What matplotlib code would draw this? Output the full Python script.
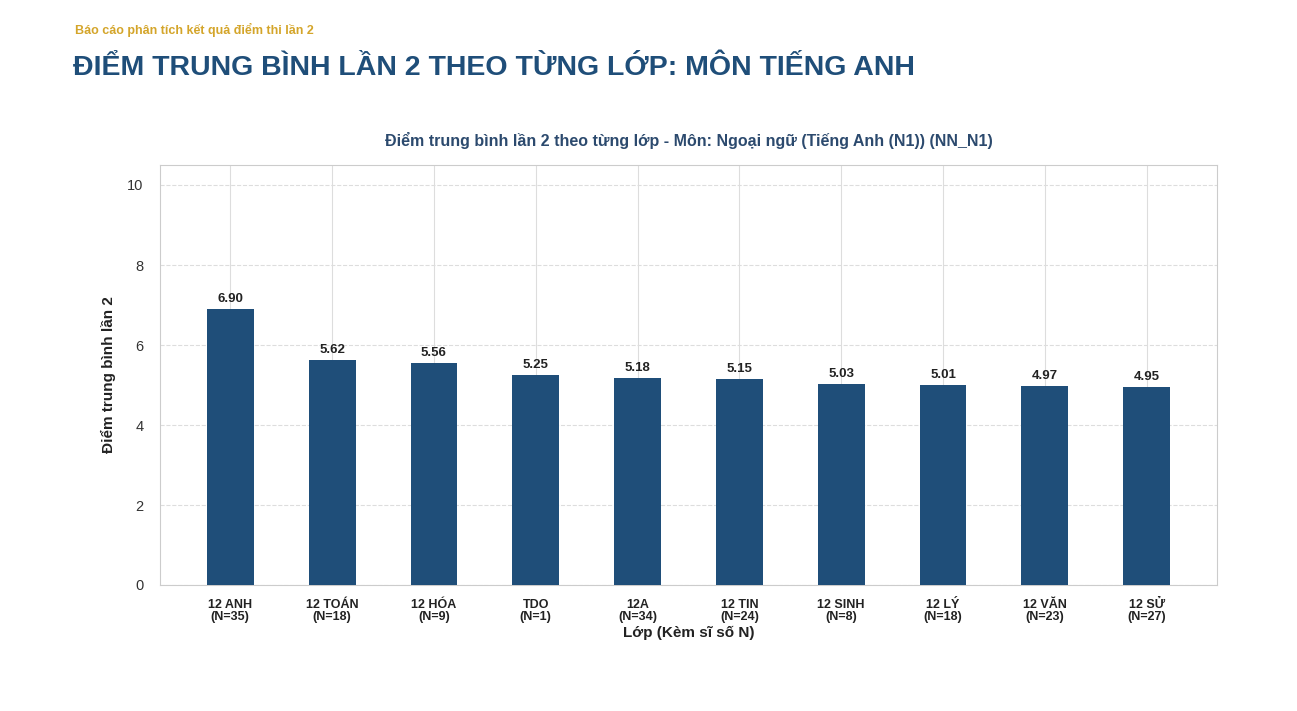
import matplotlib
matplotlib.use("Agg")
import matplotlib.pyplot as plt
plt.rcParams['font.family'] = ['Liberation Sans', 'DejaVu Sans']

classes = ["12 ANH", "12 TOÁN", "12 HÓA", "TDO", "12A", "12 TIN", "12 SINH", "12 LÝ", "12 VĂN", "12 SỬ"]
counts = [35, 18, 9, 1, 34, 24, 8, 18, 23, 27]
scores = [6.90, 5.62, 5.56, 5.25, 5.18, 5.15, 5.03, 5.01, 4.97, 4.95]

fig = plt.figure(figsize=(12.97, 7.11), dpi=100)
fig.text(75/1297, 1-30/711, "Báo cáo phân tích kết quả điểm thi lần 2", color="#d4a52a",
         fontsize=9, fontweight="bold", va="center")
fig.text(73/1297, 1-68/711, "ĐIỂM TRUNG BÌNH LẦN 2 THEO TỪNG LỚP: MÔN TIẾNG ANH", color="#1f4e79",
         fontsize=20.5, fontweight="bold", va="center")

ax = fig.add_axes([160/1297, 1-585/711, (1217-160)/1297, (585-165)/711])
x = range(len(classes))
ax.bar(x, scores, width=0.46, color="#1f4e79", zorder=3)
for i, v in enumerate(scores):
    ax.text(i, v + 0.1, f"{v:.2f}", ha="center", va="bottom", fontsize=9.5, fontweight="bold", color="#222222")
ax.set_ylim(0, 10.5)
ax.set_xlim(-0.69, len(classes) - 0.31)
ax.set_yticks([0, 2, 4, 6, 8, 10])
ax.set_xticks(list(x))
ax.set_xticklabels([f"{c}\n(N={n})" for c, n in zip(classes, counts)], fontsize=9, fontweight="bold", color="#222222", linespacing=1.0)
ax.tick_params(axis="y", labelsize=10.5, colors="#333333", length=0, pad=12)
ax.tick_params(axis="x", length=0, pad=10)
ax.yaxis.grid(True, linestyle="--", color="#dddddd", zorder=0)
ax.xaxis.grid(True, linestyle="-", color="#dddddd", zorder=0)
for s in ax.spines.values():
    s.set_color("#cccccc")
ax.set_ylabel("Điểm trung bình lần 2", fontsize=11, fontweight="bold", color="#222222", labelpad=8)
ax.set_xlabel("Lớp (Kèm sĩ số N)", fontsize=11, fontweight="bold", color="#222222", labelpad=2)
ax.set_title("Điểm trung bình lần 2 theo từng lớp - Môn: Ngoại ngữ (Tiếng Anh (N1)) (NN_N1)",
             fontsize=11.5, fontweight="bold", color="#2c4a6e", pad=14)
fig.savefig("out.png", dpi=100)
